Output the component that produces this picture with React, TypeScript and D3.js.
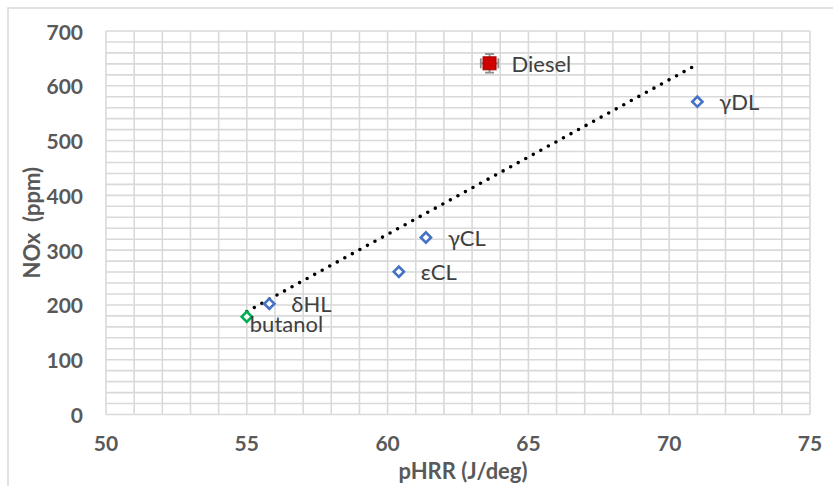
import * as d3 from 'd3'

const labels = ['butanol', 'δHL', 'εCL', 'γCL', 'γDL', 'Diesel']
const pHRR = [55.0, 55.8, 60.4, 61.36, 71.0, 63.62]
const NOx = [178.5, 202, 260.6, 323, 571, 641]
const diesel = { x: 63.62, y: 641, xErr: 0.31, yErr: 17 }

const xTicks = [50, 55, 60, 65, 70, 75]
const yTicks = [0, 100, 200, 300, 400, 500, 600, 700]

const W = 833
const H = 486
const margin = { left: 106, right: 23, top: 31, bottom: 71.5 }

const FONT = 'Lato, "Open Sans", sans-serif'
const GRID = '#d9d9d9'
const TXT = '#595959'
const LBL = '#404040'

export default function App() {
  const x = d3.scaleLinear().domain([50, 75]).range([margin.left, W - margin.right])
  const y = d3.scaleLinear().domain([0, 700]).range([H - margin.bottom, margin.top])

  // least squares trend line over all points (as in the original workbook)
  const mx = d3.mean(pHRR) as number
  const my = d3.mean(NOx) as number
  const sxy = d3.sum(pHRR, (v, i) => (v - mx) * (NOx[i] - my))
  const sxx = d3.sum(pHRR, (v) => (v - mx) ** 2)
  const slope = sxy / sxx
  const icpt = my - slope * mx
  const [x0, x1] = d3.extent(pHRR) as [number, number]
  const trend = d3.line<number>().x((v) => x(v)).y((v) => y(icpt + slope * v))([x0, x1]) as string

  const vGrid = d3.range(50, 75.01, 1)
  const hGrid = d3.range(0, 700.01, 20)

  const diamond = d3.symbol(d3.symbolSquare, 52)() as string

  return (
    <svg
      width={W}
      height={H}
      style={{ position: 'absolute', left: 0, top: 0, background: '#fff' }}
      fontFamily={FONT}
    >
      <rect x={8} y={8} width={W + 20} height={H + 20} fill="#fff" stroke={GRID} strokeWidth={1.5} />

      <g stroke={GRID} strokeWidth={1.6}>
        {vGrid.map((v) => (
          <line key={'v' + v} x1={x(v)} x2={x(v)} y1={y(0)} y2={y(700)} />
        ))}
        {hGrid.map((v) => (
          <line key={'h' + v} x1={x(50)} x2={x(75)} y1={y(v)} y2={y(v)} />
        ))}
      </g>

      <g fill={TXT} fontWeight={700} fontSize={21}>
        {yTicks.map((t) => (
          <text key={'y' + t} x={83} y={y(t)} textAnchor="end" dominantBaseline="central">
            {t}
          </text>
        ))}
        {xTicks.map((t) => (
          <text key={'x' + t} x={x(t)} y={442} textAnchor="middle" dominantBaseline="central">
            {t}
          </text>
        ))}
      </g>

      <text
        x={(x(50) + x(75)) / 2 + 5}
        y={470}
        textAnchor="middle"
        dominantBaseline="central"
        fill={TXT}
        fontWeight={700}
        fontSize={22}
      >
        pHRR (J/deg)
      </text>
      <text
        transform={`translate(31,${(y(0) + y(700)) / 2}) rotate(-90)`}
        textAnchor="middle"
        dominantBaseline="central"
        fill={TXT}
        fontWeight={700}
        fontSize={22}
        xmlSpace="preserve"
      >
        NOx  (ppm)
      </text>

      <path d={trend} fill="none" stroke="#000" strokeWidth={3.6} strokeLinecap="round" strokeDasharray="0 8.6" />

      {labels.map((name, i) => {
        if (name === 'Diesel') return null
        const color = name === 'butanol' ? '#00b050' : '#4472c4'
        return (
          <path
            key={name}
            d={diamond}
            transform={`translate(${x(pHRR[i])},${y(NOx[i])}) rotate(45)`}
            fill="#fff"
            stroke={color}
            strokeWidth={2.6}
          />
        )
      })}

      <g stroke="#8c8c8c" strokeWidth={1.8}>
        <line x1={x(diesel.x - diesel.xErr)} x2={x(diesel.x + diesel.xErr)} y1={y(diesel.y)} y2={y(diesel.y)} />
        <line x1={x(diesel.x - diesel.xErr)} x2={x(diesel.x - diesel.xErr)} y1={y(diesel.y) - 5} y2={y(diesel.y) + 5} />
        <line x1={x(diesel.x + diesel.xErr)} x2={x(diesel.x + diesel.xErr)} y1={y(diesel.y) - 5} y2={y(diesel.y) + 5} />
        <line x1={x(diesel.x)} x2={x(diesel.x)} y1={y(diesel.y - diesel.yErr)} y2={y(diesel.y + diesel.yErr)} />
        <line x1={x(diesel.x) - 4.5} x2={x(diesel.x) + 4.5} y1={y(diesel.y + diesel.yErr)} y2={y(diesel.y + diesel.yErr)} />
        <line x1={x(diesel.x) - 4.5} x2={x(diesel.x) + 4.5} y1={y(diesel.y - diesel.yErr)} y2={y(diesel.y - diesel.yErr)} />
      </g>
      <rect
        x={x(diesel.x) - 6.5}
        y={y(diesel.y) - 6.5}
        width={13}
        height={13}
        fill="#d00000"
        stroke="#a00000"
        strokeWidth={1}
      />

      <g fill={LBL} fontSize={22}>
        {labels.map((name, i) => {
          const dx = name === 'butanol' ? 3 : 22
          const dy = name === 'butanol' ? 7 : name === 'Diesel' ? 0 : 0
          return (
            <text key={'l' + name} x={x(pHRR[i]) + dx} y={y(NOx[i]) + dy} dominantBaseline="central">
              {name}
            </text>
          )
        })}
      </g>
    </svg>
  )
}
